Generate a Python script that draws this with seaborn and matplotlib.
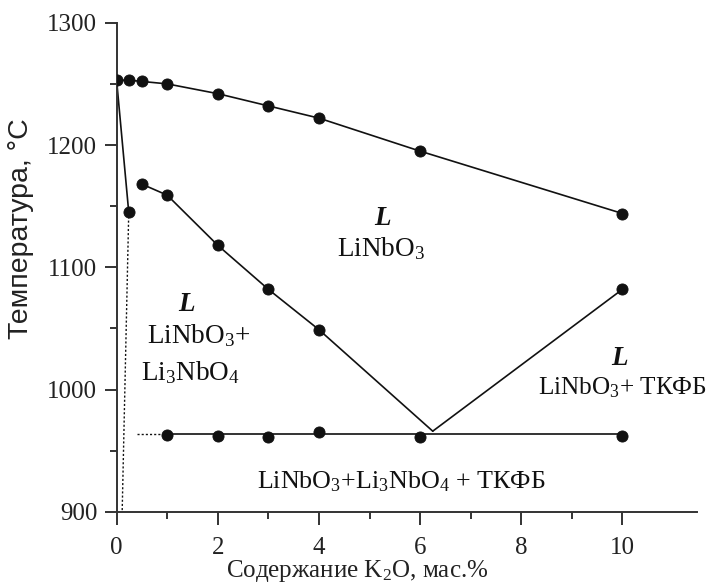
import matplotlib
matplotlib.use('Agg')
import matplotlib.pyplot as plt
import seaborn as sns
from matplotlib.ticker import MultipleLocator, FixedLocator

# liquidus LiNbO3 (upper curve)
top_x = [0, 0.25, 0.5, 1, 2, 3, 4, 6, 10]
top_y = [1253, 1253, 1252, 1250, 1242, 1232, 1222, 1195, 1144]

# steep branch from pure LiNbO3 and its dotted continuation
steep_x = [0, 0.24]
steep_y = [1253, 1145]
steep_dot_x = [0.24, 0.11]
steep_dot_y = [1145, 900]

# Li3NbO4 liquidus down to eutectic point
li3_x = [0.5, 1, 2, 3, 4, 6.25]
li3_y = [1168, 1159, 1118, 1082, 1049, 966]
li3_pts = 5  # last point is the eutectic (no marker)

# TKFB branch from eutectic
tkfb_x = [6.25, 10]
tkfb_y = [966, 1082]

# eutectic horizontal
eut_line_x = [1, 10]
eut_line_y = [963.5, 963.5]
eut_dot_x = [0.4, 1]
eut_dot_y = [963.5, 963.5]
eut_x = [1, 2, 3, 4, 6, 10]
eut_y = [962.5, 962, 961.5, 965, 961, 962]

sns.set_style('ticks')
plt.rcParams['font.family'] = ['Liberation Serif', 'DejaVu Serif']
plt.rcParams['mathtext.fontset'] = 'custom'
plt.rcParams['mathtext.rm'] = 'Liberation Serif'
plt.rcParams['mathtext.it'] = 'Liberation Serif:italic'
plt.rcParams['mathtext.bf'] = 'Liberation Serif:bold'

fig = plt.figure(figsize=(7.11, 5.83), dpi=100)
ax = fig.add_axes([0.164, 0.122, 0.816, 0.839])

lc = '#111111'
lw = 1.2
sns.lineplot(x=top_x, y=top_y, sort=False, estimator=None, color=lc, lw=lw, ax=ax)
sns.lineplot(x=steep_x, y=steep_y, sort=False, estimator=None, color=lc, lw=lw, ax=ax)
ax.plot(steep_dot_x, steep_dot_y, color=lc, lw=1.0, ls=(0, (1.5, 1.5)))
sns.lineplot(x=li3_x, y=li3_y, sort=False, estimator=None, color=lc, lw=lw, ax=ax)
sns.lineplot(x=tkfb_x, y=tkfb_y, sort=False, estimator=None, color=lc, lw=lw, ax=ax)
sns.lineplot(x=eut_line_x, y=eut_line_y, sort=False, estimator=None, color=lc, lw=lw, ax=ax)
ax.plot(eut_dot_x, eut_dot_y, color=lc, lw=1.0, ls=(0, (1.5, 1.5)))

ms = 64
sns.scatterplot(x=top_x, y=top_y, color=lc, s=ms, edgecolor=lc, ax=ax, zorder=5)
sns.scatterplot(x=steep_x[1:], y=steep_y[1:], color=lc, s=ms, edgecolor=lc, ax=ax, zorder=5)
sns.scatterplot(x=li3_x[:li3_pts], y=li3_y[:li3_pts], color=lc, s=ms, edgecolor=lc, ax=ax, zorder=5)
sns.scatterplot(x=tkfb_x[1:], y=tkfb_y[1:], color=lc, s=ms, edgecolor=lc, ax=ax, zorder=5)
sns.scatterplot(x=eut_x, y=eut_y, color=lc, s=ms, edgecolor=lc, ax=ax, zorder=5)

ax.set_xlim(0, 11.47)
ax.set_ylim(900, 1300)
ax.xaxis.set_major_locator(MultipleLocator(2))
ax.xaxis.set_minor_locator(FixedLocator([1, 3, 5, 7, 9]))
ax.yaxis.set_major_locator(MultipleLocator(100))
ax.yaxis.set_minor_locator(FixedLocator([950, 1050, 1150, 1250]))
sns.despine(ax=ax)
for s in ['left', 'bottom']:
    ax.spines[s].set_linewidth(1.4)
    ax.spines[s].set_color('#333333')
ax.tick_params(which='major', length=9, width=1.4, color='#333333', labelsize=18,
               labelcolor='#222222', direction='out', pad=5)
ax.tick_params(which='minor', length=5, width=1.4, color='#333333', direction='out')
ax.tick_params(axis='x', pad=9)

ax.set_xlabel(r'Содержание $\mathrm{K_2O}$, мас.%', fontsize=18, color='#222222')
ax.xaxis.set_label_coords(0.414, -0.094)
ax.set_ylabel('Температура, °C', fontsize=20.5, family=['Liberation Sans'], color='#222222')
ax.yaxis.set_label_coords(-0.142, 0.58)

fs = 19.5
lab = dict(fontsize=fs, color='#111111', ha='center', va='baseline')
Lst = dict(fontsize=fs, color='#111111', ha='center', va='baseline',
           fontweight='bold', style='italic')
ax.text(5.26, 1135, 'L', **Lst)
ax.text(5.23, 1109, r'$\mathrm{LiNbO_3}$', **lab)
ax.text(1.38, 1064, 'L', **Lst)
ax.text(0.6, 1038, r'$\mathrm{LiNbO_3}$+', fontsize=fs, color='#111111', ha='left', va='baseline')
ax.text(0.48, 1008, r'$\mathrm{Li_3NbO_4}$', fontsize=fs, color='#111111', ha='left', va='baseline')
ax.text(9.95, 1020, 'L', **Lst)
ax.text(11.68, 996, r'$\mathrm{LiNbO_3}$+ ТКФБ', fontsize=18.2, color='#111111', ha='right', va='baseline', clip_on=False)
ax.text(5.63, 919, r'$\mathrm{LiNbO_3}$+$\mathrm{Li_3NbO_4}$ + ТКФБ', fontsize=18.7, color='#111111', ha='center', va='baseline')

fig.savefig('out.png', dpi=100)
